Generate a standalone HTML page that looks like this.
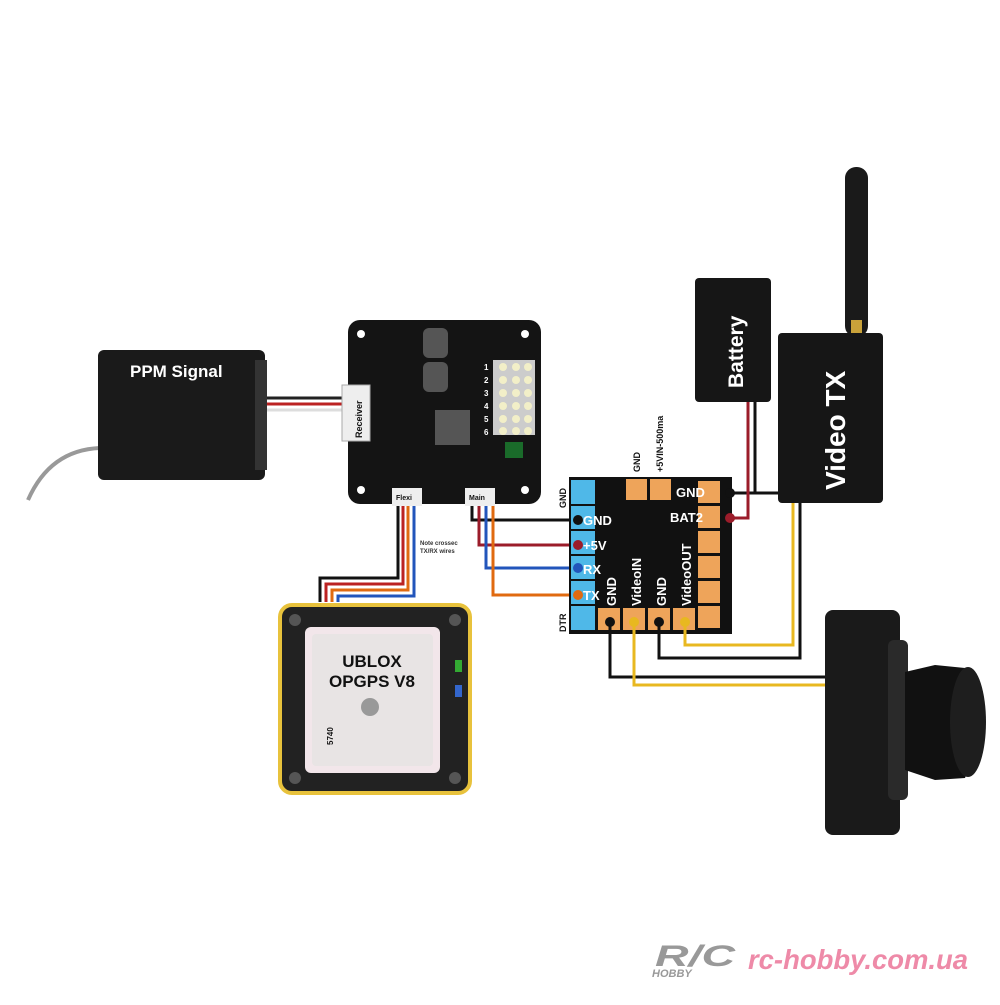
<!DOCTYPE html>
<html><head><meta charset="utf-8"><style>
body{margin:0;background:#fff;width:1000px;height:1000px;overflow:hidden}
svg text{font-family:"Liberation Sans",sans-serif;font-weight:bold}
</style></head><body>
<svg width="1000" height="1000" viewBox="0 0 1000 1000" xmlns="http://www.w3.org/2000/svg">
<rect width="1000" height="1000" fill="#fff"/>
<path d="M100 448 Q50 450 28 500" stroke="#999" stroke-width="4" fill="none"/>
<line x1="262" y1="398" x2="345" y2="398" stroke="#222" stroke-width="3"/>
<line x1="262" y1="404" x2="345" y2="404" stroke="#b22" stroke-width="3"/>
<line x1="262" y1="410" x2="345" y2="410" stroke="#ddd" stroke-width="3"/>
<rect x="98" y="350" width="167" height="130" rx="6" fill="#1a1a1a"/>
<rect x="255" y="360" width="12" height="110" fill="#333"/>
<text x="130" y="377" font-size="17" fill="#fff">PPM Signal</text>
<rect x="348" y="320" width="193" height="184" rx="12" fill="#141414"/>
<rect x="342" y="385" width="28" height="56" fill="#eee" stroke="#aaa"/>
<text transform="translate(362,438) rotate(-90)" font-size="9" fill="#111">Receiver</text>
<rect x="423" y="328" width="25" height="30" rx="6" fill="#555"/>
<rect x="423" y="362" width="25" height="30" rx="6" fill="#555"/>
<rect x="435" y="410" width="35" height="35" fill="#555"/>
<rect x="493" y="360" width="42" height="75" fill="#ccc"/>
<g fill="#f2efc8"><circle cx="503" cy="367" r="4"/><circle cx="516" cy="367" r="4"/><circle cx="528" cy="367" r="4"/><circle cx="503" cy="380" r="4"/><circle cx="516" cy="380" r="4"/><circle cx="528" cy="380" r="4"/><circle cx="503" cy="393" r="4"/><circle cx="516" cy="393" r="4"/><circle cx="528" cy="393" r="4"/><circle cx="503" cy="406" r="4"/><circle cx="516" cy="406" r="4"/><circle cx="528" cy="406" r="4"/><circle cx="503" cy="419" r="4"/><circle cx="516" cy="419" r="4"/><circle cx="528" cy="419" r="4"/><circle cx="503" cy="431" r="4"/><circle cx="516" cy="431" r="4"/><circle cx="528" cy="431" r="4"/></g>
<text x="484" y="370" font-size="8" fill="#fff">1</text><text x="484" y="383" font-size="8" fill="#fff">2</text><text x="484" y="396" font-size="8" fill="#fff">3</text><text x="484" y="409" font-size="8" fill="#fff">4</text><text x="484" y="422" font-size="8" fill="#fff">5</text><text x="484" y="435" font-size="8" fill="#fff">6</text>
<rect x="505" y="442" width="18" height="16" fill="#1a6b2a"/>
<g fill="#fff"><circle cx="361" cy="334" r="4"/><circle cx="525" cy="334" r="4"/><circle cx="361" cy="490" r="4"/><circle cx="525" cy="490" r="4"/></g>
<rect x="392" y="488" width="30" height="18" fill="#eee"/><text x="396" y="500" font-size="7" fill="#111">Flexi</text>
<rect x="465" y="488" width="30" height="18" fill="#eee"/><text x="469" y="500" font-size="7" fill="#111">Main</text>
<g fill="none" stroke-width="3">
<path d="M398 506 V578 H320 V602" stroke="#111"/>
<path d="M403 506 V584 H326 V602" stroke="#b22"/>
<path d="M408 506 V590 H332 V602" stroke="#e06a10"/>
<path d="M414 506 V596 H338 V602" stroke="#2255bb"/>
</g>
<text x="420" y="545" font-size="6" fill="#333" font-weight="normal">Note crossec</text>
<text x="420" y="553" font-size="6" fill="#333" font-weight="normal">TX/RX wires</text>
<g fill="none" stroke-width="3">
<path d="M472 506 V520 H578" stroke="#111"/>
<path d="M479 506 V545 H578" stroke="#9b1c2a"/>
<path d="M486 506 V568 H578" stroke="#2255bb"/>
<path d="M493 506 V595 H578" stroke="#e06a10"/>
</g>
<rect x="280" y="605" width="190" height="188" rx="12" fill="#222" stroke="#e8c23c" stroke-width="4"/>
<rect x="305" y="627" width="135" height="146" rx="6" fill="#f2e6ea"/>
<rect x="312" y="634" width="121" height="132" rx="4" fill="#e8e4e4"/>
<text x="372" y="667" font-size="17" fill="#111" text-anchor="middle">UBLOX</text>
<text x="372" y="687" font-size="17" fill="#111" text-anchor="middle">OPGPS V8</text>
<circle cx="370" cy="707" r="9" fill="#999"/>
<text transform="translate(333,745) rotate(-90)" font-size="8" fill="#111">5740</text>
<g fill="#555"><circle cx="295" cy="620" r="6"/><circle cx="455" cy="620" r="6"/><circle cx="295" cy="778" r="6"/><circle cx="455" cy="778" r="6"/></g>
<rect x="455" y="660" width="7" height="12" fill="#3a3"/><rect x="455" y="685" width="7" height="12" fill="#36c"/>
<rect x="695" y="278" width="76" height="124" rx="4" fill="#161616"/>
<text transform="translate(743,388) rotate(-90)" font-size="21" fill="#fff">Battery</text>
<rect x="845" y="167" width="23" height="170" rx="11" fill="#1a1a1a"/>
<rect x="851" y="320" width="11" height="15" fill="#c9a23a"/>
<rect x="778" y="333" width="105" height="170" rx="4" fill="#161616"/>
<text transform="translate(845,490) rotate(-90)" font-size="28" fill="#fff" font-weight="normal">Video TX</text>
<path d="M720 493 H778" stroke="#111" stroke-width="3"/>
<path d="M755 402 V493" stroke="#111" stroke-width="3" fill="none"/>
<path d="M720 518 H748 V402" stroke="#9b1c2a" stroke-width="3" fill="none"/>
<rect x="569" y="477" width="163" height="157" fill="#111"/>
<rect x="571" y="480" width="24" height="150" fill="#4fb8e8"/>
<g stroke="#111" stroke-width="2"><line x1="571" y1="505" x2="595" y2="505"/><line x1="571" y1="530" x2="595" y2="530"/><line x1="571" y1="555" x2="595" y2="555"/><line x1="571" y1="580" x2="595" y2="580"/><line x1="571" y1="605" x2="595" y2="605"/></g>
<g fill="#eea45a">
<rect x="626" y="479" width="21" height="21"/><rect x="650" y="479" width="21" height="21"/>
<rect x="698" y="481" width="22" height="22"/><rect x="698" y="506" width="22" height="22"/><rect x="698" y="531" width="22" height="22"/><rect x="698" y="556" width="22" height="22"/><rect x="698" y="581" width="22" height="22"/><rect x="698" y="606" width="22" height="22"/>
<rect x="598" y="608" width="22" height="22"/><rect x="623" y="608" width="22" height="22"/><rect x="648" y="608" width="22" height="22"/><rect x="673" y="608" width="22" height="22"/>
</g>
<g font-size="13" fill="#fff">
<text x="583" y="525">GND</text><text x="583" y="550">+5V</text><text x="583" y="574">RX</text><text x="583" y="600">TX</text>
<text x="676" y="497">GND</text><text x="670" y="522">BAT2</text>
<text transform="translate(616,606) rotate(-90)">GND</text>
<text transform="translate(641,606) rotate(-90)">VideoIN</text>
<text transform="translate(666,606) rotate(-90)">GND</text>
<text transform="translate(691,606) rotate(-90)">VideoOUT</text>
</g>
<g font-size="9" fill="#111">
<text transform="translate(566,508) rotate(-90)">GND</text>
<text transform="translate(566,632) rotate(-90)">DTR</text>
<text transform="translate(640,472) rotate(-90)">GND</text>
<text transform="translate(663,472) rotate(-90)">+5VIN-500ma</text>
</g>
<g><circle cx="578" cy="520" r="5" fill="#111"/><circle cx="578" cy="545" r="5" fill="#9b1c2a"/><circle cx="578" cy="568" r="5" fill="#2255bb"/><circle cx="578" cy="595" r="5" fill="#e06a10"/>
<circle cx="730" cy="493" r="5" fill="#111"/><circle cx="730" cy="518" r="5" fill="#9b1c2a"/></g>
<g fill="none" stroke-width="3">
<path d="M610 622 V677 H828" stroke="#111"/>
<path d="M634 622 V685 H828" stroke="#e8b820"/>
<path d="M659 622 V658 H800 V503" stroke="#111"/>
<path d="M685 622 V645 H793 V503" stroke="#e8b820"/>
</g>
<g><circle cx="610" cy="622" r="5" fill="#111"/><circle cx="634" cy="622" r="5" fill="#e8b820"/><circle cx="659" cy="622" r="5" fill="#111"/><circle cx="685" cy="622" r="5" fill="#e8b820"/></g>
<rect x="825" y="610" width="75" height="225" rx="8" fill="#1a1a1a"/>
<rect x="888" y="640" width="20" height="160" rx="6" fill="#2a2a2a"/>
<path d="M905 672 L935 665 L965 668 Q990 720 965 778 L935 780 L905 770 Z" fill="#111"/>
<ellipse cx="968" cy="722" rx="18" ry="55" fill="#1e1e1e"/>
<text x="655" y="966" font-size="30" fill="#999" font-style="italic" textLength="80" lengthAdjust="spacingAndGlyphs">R/C</text>
<text x="652" y="977" font-size="11" fill="#999" font-style="italic">HOBBY</text>
<text x="748" y="969" font-size="28" fill="#ee8aa8" font-style="italic" textLength="220" lengthAdjust="spacingAndGlyphs">rc-hobby.com.ua</text>
</svg>
</body></html>
